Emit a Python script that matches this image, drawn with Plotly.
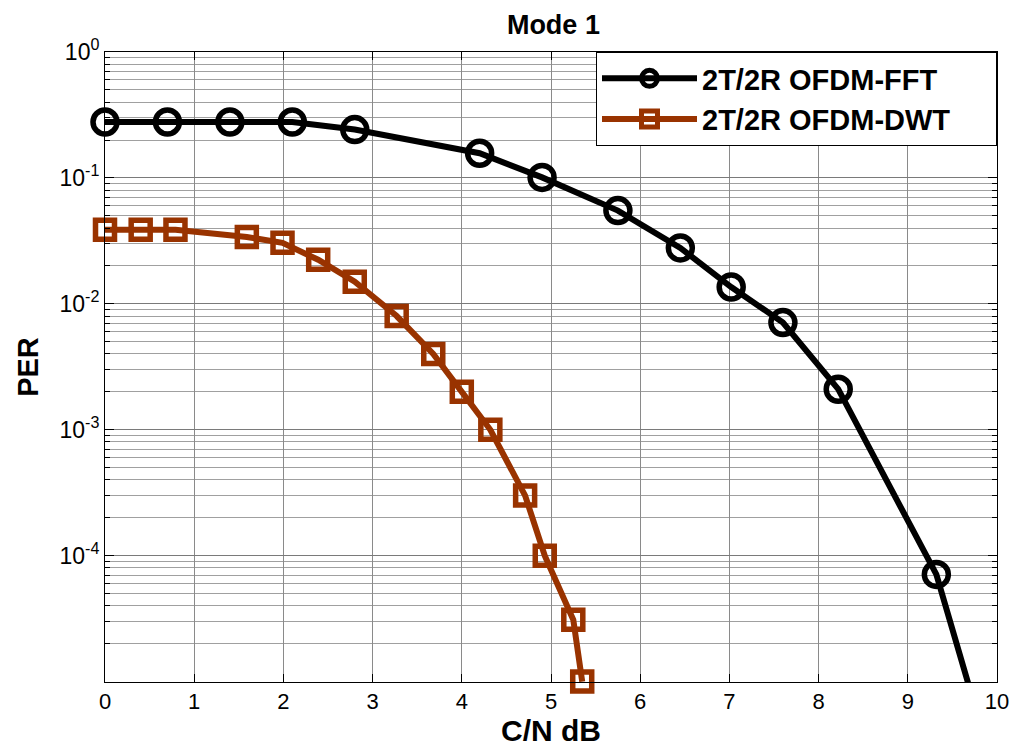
import plotly.graph_objects as go

# Data
fft_x = [0, 0.7, 1.4, 2.1, 2.8, 4.2, 4.9, 5.75, 6.45, 7.02, 7.6, 8.22, 9.32, 10.0]
fft_y = [0.278, 0.278, 0.278, 0.278, 0.242, 0.157, 0.101, 0.055, 0.0278, 0.0136, 0.0071, 0.0021, 7.1e-5, 1.6e-6]

dwt_x = [0, 0.4, 0.79, 1.59, 1.99, 2.39, 2.8, 3.27, 3.68, 4.0, 4.32, 4.71, 4.93, 5.25, 5.35]
dwt_y = [0.0387, 0.0387, 0.0387, 0.034, 0.0305, 0.0224, 0.015, 0.008, 0.004, 0.002, 0.001, 3.0e-4, 1.0e-4, 3.1e-5, 1.0e-5]

y_tickvals = [1, 1e-1, 1e-2, 1e-3, 1e-4]
y_ticktext = ["10<sup>0</sup>", "10<sup>-1</sup>", "10<sup>-2</sup>", "10<sup>-3</sup>", "10<sup>-4</sup>"]
y_minor = [m * 10.0 ** e for e in range(-5, 0) for m in range(2, 10)]

FONT = "Liberation Sans, Arial, sans-serif"
PAD = "&nbsp;" * 5

# The page body has an 8px margin, so the figure is sized to fit the window after it.
W, H = 1010, 743

fig = go.Figure()
fig.add_trace(go.Scatter(
    x=fft_x, y=fft_y, name="<b>2T/2R OFDM-FFT</b>" + PAD, mode="lines+markers",
    line=dict(color="black", width=6),
    marker=dict(symbol="circle-open", size=24, color="black", line=dict(width=5.5, color="black")),
    cliponaxis=False,
))
fig.add_trace(go.Scatter(
    x=dwt_x, y=dwt_y, name="<b>2T/2R OFDM-DWT</b>" + PAD, mode="lines+markers",
    line=dict(color="#993300", width=6),
    marker=dict(symbol="square-open", size=19, color="#993300", line=dict(width=5.5, color="#993300")),
    cliponaxis=False,
))

fig.update_layout(
    width=W, height=H,
    margin=dict(l=97, r=21, t=44, b=69, autoexpand=False),
    paper_bgcolor="white", plot_bgcolor="white",
    font=dict(family=FONT, color="black", size=22),
    title=dict(text="<b>Mode 1</b>", x=0.54, xanchor="center", y=1 - 17 / H, yanchor="middle",
               font=dict(size=27, family=FONT, color="black")),
    legend=dict(x=1, xanchor="right", y=1, yanchor="top", bgcolor="white",
                bordercolor="black", borderwidth=1, font=dict(size=29, family=FONT, color="black"),
                itemwidth=95, tracegroupgap=0),
    showlegend=True,
)
fig.update_xaxes(
    range=[0, 10], dtick=1, tick0=0, ticks="inside", ticklen=8, tickcolor="black",
    showline=True, linecolor="black", linewidth=1, mirror="ticks",
    showgrid=True, gridcolor="#8a8a8a", gridwidth=1, zeroline=False,
    tickfont=dict(size=22), automargin=False,
    title=dict(text="<b>C/N dB</b>", font=dict(size=30), standoff=6),
)
fig.update_yaxes(
    type="log", range=[-5.003, 0], tickmode="array", tickvals=y_tickvals, ticktext=y_ticktext,
    ticks="inside", ticklen=9, tickcolor="black",
    showline=True, linecolor="black", linewidth=1, mirror="ticks",
    showgrid=True, gridcolor="#7a7a7a", gridwidth=1, zeroline=False,
    minor=dict(tickmode="array", tickvals=y_minor, ticks="inside", ticklen=5, tickcolor="black",
               showgrid=True, gridcolor="#a0a0a0", gridwidth=1),
    tickfont=dict(size=23), automargin=False,
    title=dict(text="<b>PER</b>", font=dict(size=29), standoff=12),
)

fig.write_html("out.html")
